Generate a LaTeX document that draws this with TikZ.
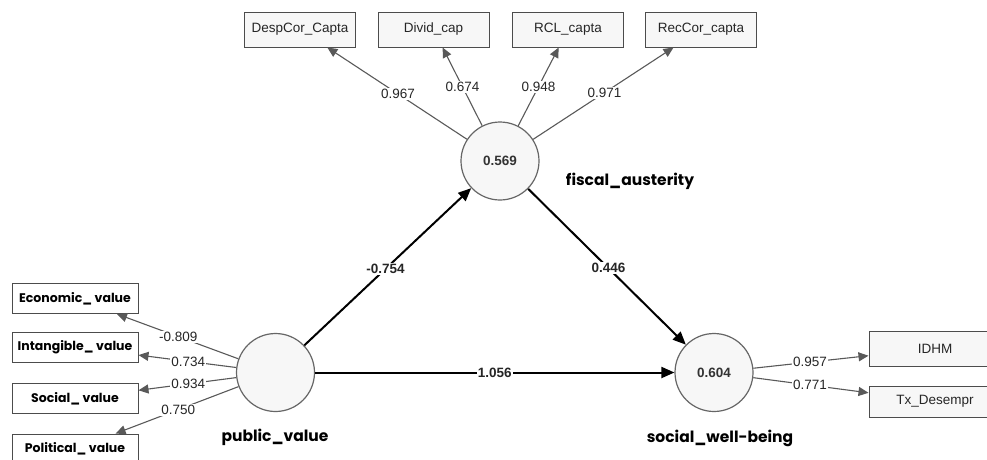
\documentclass[tikz,border=0pt]{standalone}
\usepackage{fontspec}
\setmainfont{Liberation Sans}
\newfontfamily\lvfont{Poppins}
\usetikzlibrary{arrows.meta,calc}

\begin{document}
\begin{tikzpicture}[x=1pt,y=-1pt,
  latent/.style={circle,draw=black!60,line width=1.2pt,fill=black!3,minimum size=78pt,inner sep=0pt,
    font=\fontsize{13.5}{16}\selectfont\bfseries,text=black!80},
  indic/.style={draw=black!70,line width=1pt,fill=black!3,minimum width=111pt,minimum height=35pt,
    inner sep=0pt,font=\fontsize{13.5}{16}\selectfont,text=black!85},
  pvind/.style={draw=black!70,line width=1pt,fill=white,minimum width=126pt,minimum height=30pt,
    inner sep=0pt,font=\lvfont\fontsize{12.5}{15}\selectfont\bfseries},
  lvname/.style={font=\lvfont\fontsize{15.5}{18}\selectfont\bfseries},
  loadarrow/.style={draw=black!65,line width=1.1pt,-{Triangle[length=10pt,width=9pt]}},
  structarrow/.style={draw=black,line width=2pt,-{Triangle[length=13pt,width=11pt]}},
  wlab/.style={fill=white,inner sep=1.2pt,font=\fontsize{13.5}{15}\selectfont,text=black!85},
  plab/.style={fill=white,inner sep=1.2pt,font=\fontsize{13.5}{16}\selectfont\bfseries,text=black!85}
]
\useasboundingbox (0,0) rectangle (987,459);

% latent variables
\node[latent] (fa) at (500,161) {0.569};
\node[latent] (pv) at (275.5,372.5) {};
\node[latent] (sw) at (714,372.5) {0.604};

\node[lvname] (fan) at (630,181) {fiscal\_austerity};
\node[lvname] (pvn) at (275,437) {public\_value};
\node[lvname] (swn) at (720,438) {social\_well-being};

% indicators of fiscal_austerity
\node[indic] (desp) at (300,29.5) {DespCor\_Capta};
\node[indic] (divid) at (433.5,29.5) {Divid\_cap};
\node[indic] (rcl) at (568,29.5) {RCL\_capta};
\node[indic] (rec) at (701,29.5) {RecCor\_capta};

% indicators of public_value
\node[pvind] (econ) at (75,298.5) {Economic\_ value};
\node[pvind] (intang) at (75,347) {Intangible\_ value};
\node[pvind] (soc) at (75,398.5) {Social\_ value};
\node[pvind] (pol) at (75,449) {Political\_ value};

% indicators of social_well-being
\node[indic,minimum width=132pt] (idhm) at (935,348.5) {IDHM};
\node[indic,minimum width=132pt,minimum height=31pt] (tx) at (935,401.5) {Tx\_Desempr};

% outer loadings
\draw[loadarrow] (fa) -- (desp);
\draw[loadarrow] (fa) -- (divid);
\draw[loadarrow] (fa) -- (rcl);
\draw[loadarrow] (fa) -- (rec);
\node[wlab] at ($(fa)!0.51!(desp)$) {0.967};
\node[wlab] at ($(fa)!0.565!(divid)$) {0.674};
\node[wlab] at ($(fa)!0.565!(rcl)$) {0.948};
\node[wlab] at ($(fa)!0.52!(rec)$) {0.971};

\draw[loadarrow] (pv) -- (econ);
\draw[loadarrow] (pv) -- (intang);
\draw[loadarrow] (pv) -- (soc);
\draw[loadarrow] (pv) -- (pol);
\node[wlab] at ($(pv)!0.485!(econ)$) {-0.809};
\node[wlab] at ($(pv)!0.435!(intang)$) {0.734};
\node[wlab] at ($(pv)!0.435!(soc)$) {0.934};
\node[wlab] at ($(pv)!0.485!(pol)$) {0.750};

\draw[loadarrow] (sw) -- (idhm);
\draw[loadarrow] (sw) -- (tx);
\node[wlab] at ($(sw)!0.434!(idhm)$) {0.957};
\node[wlab] at ($(sw)!0.434!(tx)$) {0.771};

% structural paths
\draw[structarrow] (pv) -- (fa);
\draw[structarrow] (fa) -- (sw);
\draw[structarrow] (pv) -- (sw);
\node[plab] at ($(pv)!0.49!(fa)$) {-0.754};
\node[plab] at ($(fa)!0.507!(sw)$) {0.446};
\node[plab] at ($(pv)!0.5!(sw)$) {1.056};
\end{tikzpicture}
\end{document}
